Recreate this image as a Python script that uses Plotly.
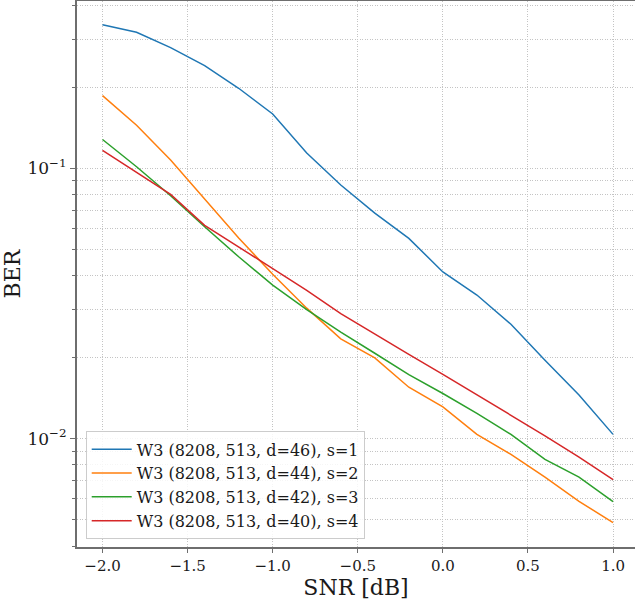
import plotly.graph_objects as go
import numpy as np

snr = [-2.0, -1.8, -1.6, -1.4, -1.2, -1.0, -0.8, -0.6, -0.4, -0.2, 0.0, 0.2, 0.4, 0.6, 0.8, 1.0]

ber_s1 = [0.340, 0.319, 0.280, 0.240, 0.198, 0.159, 0.114, 0.0868, 0.0683, 0.0551,
          0.0414, 0.0340, 0.0265, 0.0195, 0.0145, 0.01037]
ber_s2 = [0.186, 0.1445, 0.1074, 0.0772, 0.0553, 0.0406, 0.0304, 0.0234, 0.0199, 0.0155,
          0.0131, 0.01037, 0.00875, 0.00721, 0.00586, 0.00489]
ber_s3 = [0.128, 0.1014, 0.0792, 0.0608, 0.0471, 0.0370, 0.0300, 0.0248, 0.0207, 0.01726,
          0.01469, 0.0124, 0.01037, 0.00838, 0.00721, 0.00585]
ber_s4 = [0.1166, 0.0966, 0.0801, 0.0616, 0.0513, 0.0427, 0.0354, 0.0290, 0.0243, 0.0205,
          0.0173, 0.01456, 0.0122, 0.01023, 0.00855, 0.00705]

names = ["W3 (8208, 513, d=46), s=1", "W3 (8208, 513, d=44), s=2",
         "W3 (8208, 513, d=42), s=3", "W3 (8208, 513, d=40), s=4"]
colors = ["#1f77b4", "#ff7f0e", "#2ca02c", "#d62728"]
series = [ber_s1, ber_s2, ber_s3, ber_s4]

x_ticks = [-2.0, -1.5, -1.0, -0.5, 0.0, 0.5, 1.0]
x_ticktext = ["\u22122.0", "\u22121.5", "\u22121.0", "\u22120.5", "0.0", "0.5", "1.0"]
y_ticks = [0.01, 0.1]
y_ticktext = ["10<sup>\u22122</sup>", "10<sup>\u22121</sup>"]
y_minor = [m * 10.0 ** e for e in (-3, -2, -1) for m in range(2, 10)]

FONT = "DejaVu Serif"
SPINE = "#6e6e6e"
GRID = "#c4c4c4"
GRIDDASH = "1px,1.5px"

fig = go.Figure()
for ys, nm, c in zip(series, names, colors):
    fig.add_trace(go.Scatter(x=snr, y=ys, mode="lines", name=nm,
                             line=dict(color=c, width=1.5)))

fig.update_layout(
    width=635, height=600,
    margin=dict(l=77, r=0, t=1, b=53),
    plot_bgcolor="white", paper_bgcolor="white",
    font=dict(family=FONT, color="#1a1a1a", size=14),
    showlegend=True,
    legend=dict(x=0.0156, y=0.014, xanchor="left", yanchor="bottom",
                bgcolor="rgba(255,255,255,0.85)", bordercolor="#cccccc", borderwidth=1,
                font=dict(family=FONT, size=16, color="#1a1a1a"),
                itemwidth=40, tracegroupgap=0),
)

fig.update_xaxes(
    range=[-2.15, 1.129],
    tickvals=x_ticks, ticktext=x_ticktext,
    showgrid=True, gridcolor=GRID, griddash=GRIDDASH, gridwidth=1,
    showline=True, linecolor=SPINE, linewidth=2, mirror=True,
    ticks="outside", ticklen=4, tickcolor=SPINE, tickwidth=1.2,
    tickfont=dict(family=FONT, size=15, color="#1a1a1a"),
    title=dict(text="SNR [dB]", font=dict(family=FONT, size=22, color="#1a1a1a"), standoff=1),
    zeroline=False,
)
fig.update_yaxes(
    type="log",
    range=[-2.401, -0.3804],
    tickvals=y_ticks, ticktext=y_ticktext,
    showgrid=True, gridcolor=GRID, griddash=GRIDDASH, gridwidth=1,
    showline=True, linecolor=SPINE, linewidth=2, mirror=False,
    ticks="outside", ticklen=5, tickcolor=SPINE, tickwidth=1.2,
    tickfont=dict(family=FONT, size=17, color="#1a1a1a"),
    minor=dict(tickvals=y_minor, ticks="outside", ticklen=3, tickcolor=SPINE, tickwidth=1,
               showgrid=True, gridcolor=GRID, griddash=GRIDDASH, gridwidth=1),
    title=dict(text="BER", font=dict(family=FONT, size=22, color="#1a1a1a"), standoff=2),
    zeroline=False,
)

fig.write_html("out.html")
